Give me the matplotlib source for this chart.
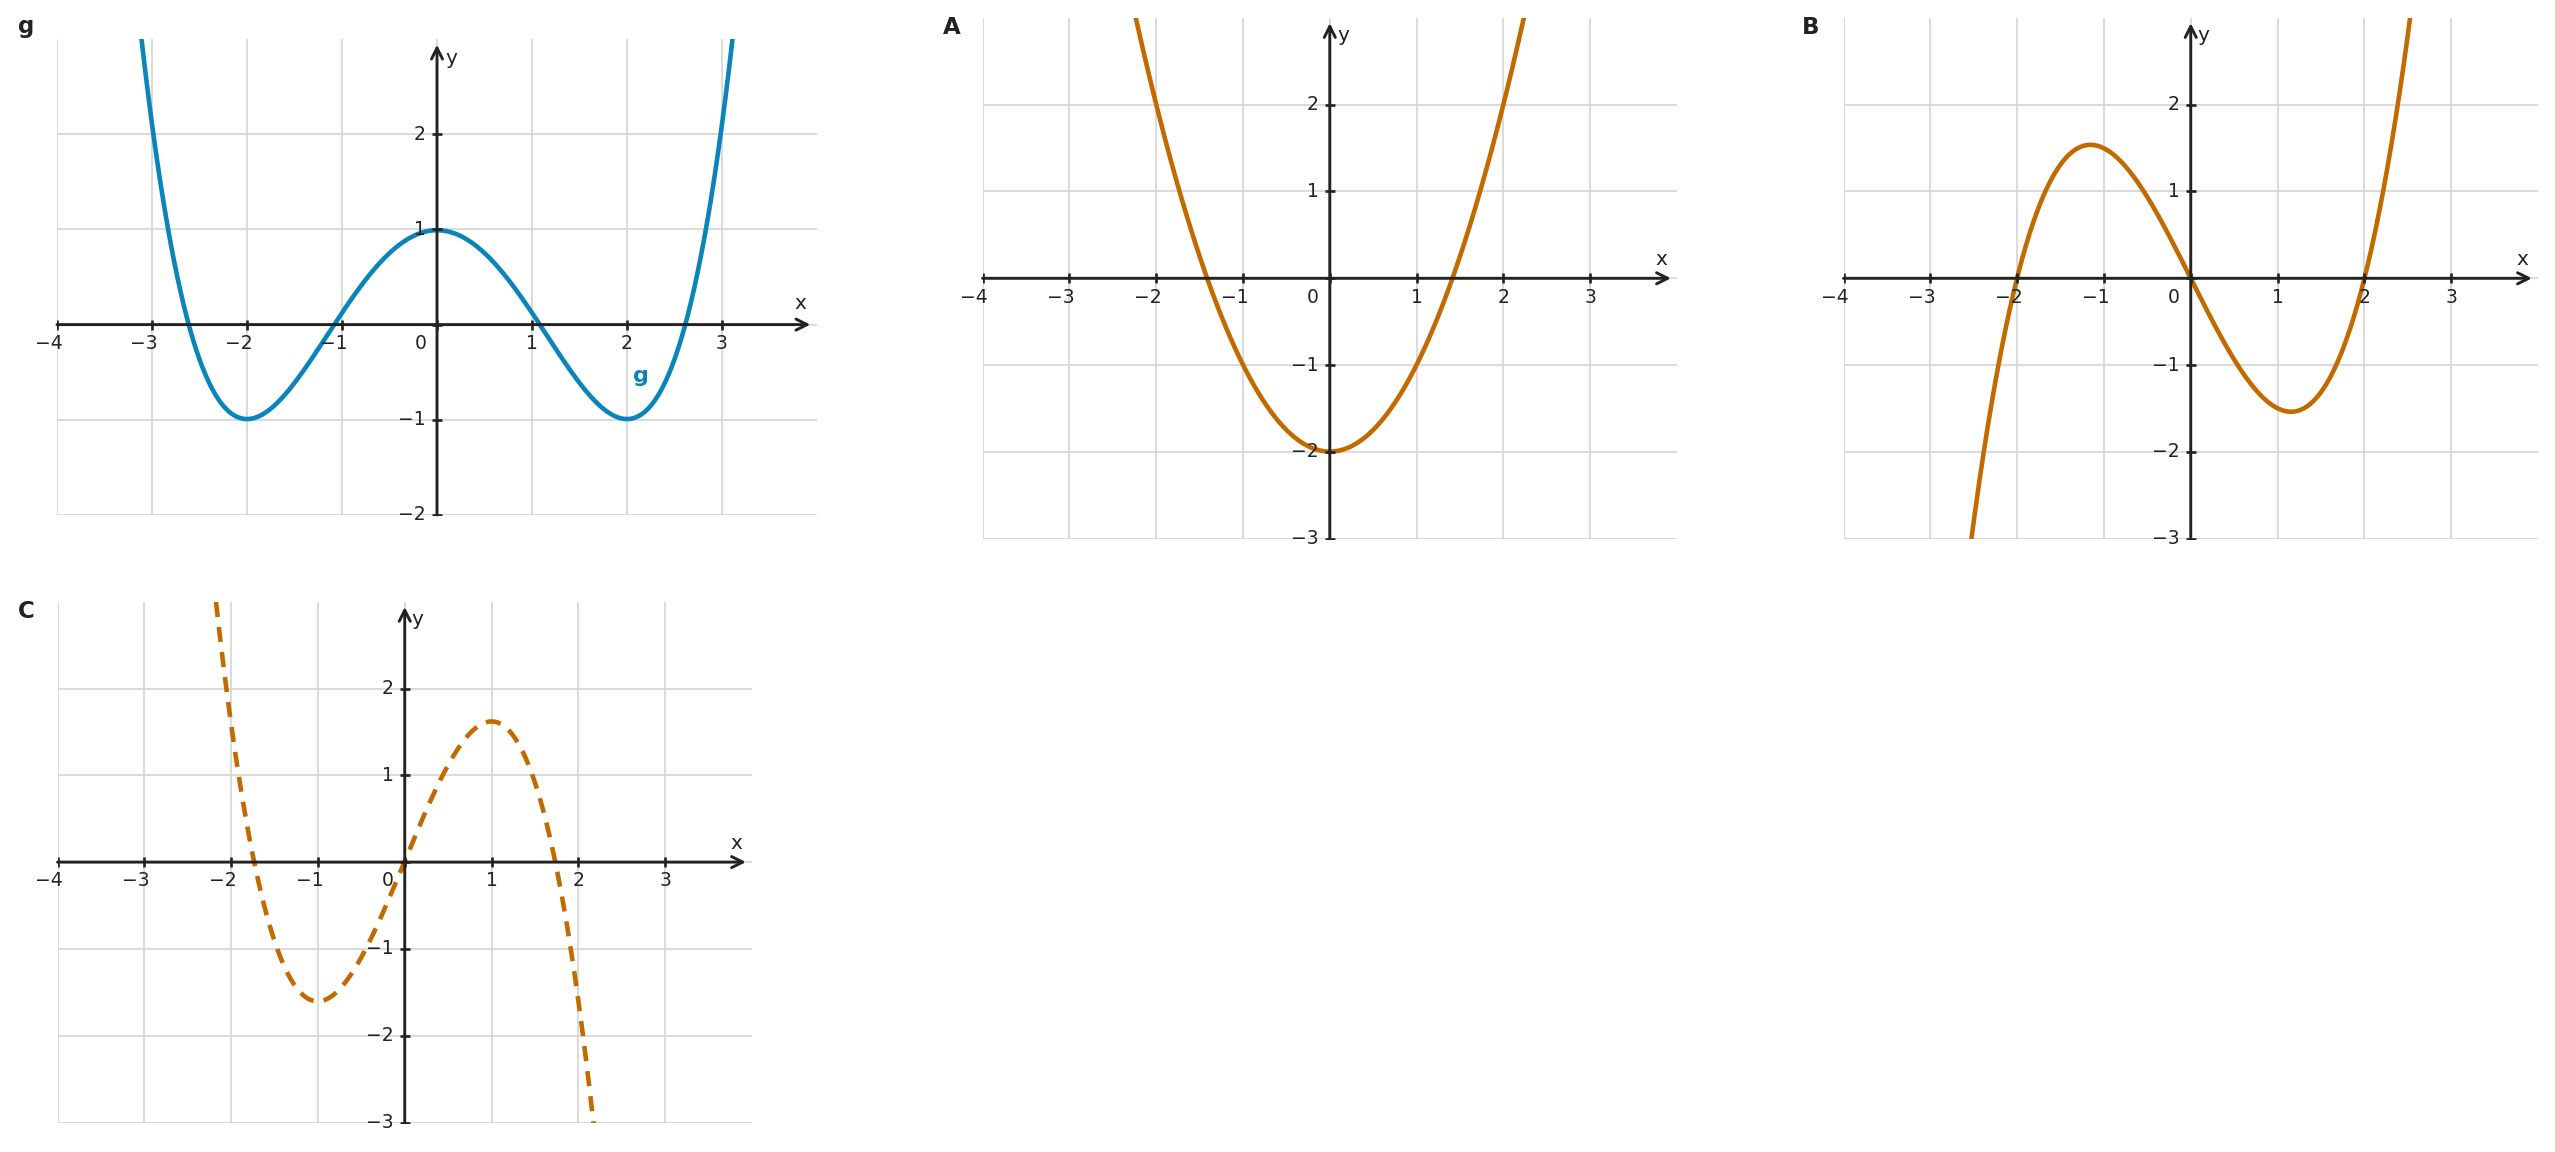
import numpy as np
import matplotlib
matplotlib.use("Agg")
import matplotlib.pyplot as plt

# points (x, y)
g_x = [-3.0, -2.61, -2.0, -1.08, 0.0, 1.08, 2.0, 2.61, 3.0]
g_y = [2.1, 0.0, -1.0, 0.0, 1.0, 0.0, -1.0, 0.0, 2.1]

a_x = [-2.0, -1.41, -1.0, 0.0, 1.0, 1.41, 2.0]
a_y = [2.0, 0.0, -1.0, -2.0, -1.0, 0.0, 2.0]

b_x = [-2.5, -2.0, -1.15, 0.0, 1.15, 2.0, 2.4]
b_y = [-2.8, 0.0, 1.54, 0.0, -1.54, 0.0, 2.1]

c_x = [-2.18, -2.045, -1.92, -1.73, -1.0, 0.0, 1.0, 1.74, 1.92, 2.05, 2.17]
c_y = [3.0, 2.0, 1.0, 0.0, -1.6, 0.0, 1.6, 0.0, -1.0, -2.0, -3.0]

x_ticks = [-4, -3, -2, -1, 0, 1, 2, 3]

BLUE = "#0a85b9"
ORANGE = "#c26a00"
INK = "#222222"
GRID = "#d4d4d4"

W, H = 2555, 1152
fig = plt.figure(figsize=(W / 100, H / 100), dpi=100)


def px_axes(left, top, right, bottom):
    return fig.add_axes([left / W, 1 - bottom / H, (right - left) / W, (bottom - top) / H])


def coord_system(ax, ymin, ymax=3):
    ax.set_xlim(-4, 4)
    ax.set_ylim(ymin, ymax)
    ax.axis("off")
    # grid
    for gx in range(-4, 4):
        ax.plot([gx, gx], [ymin, ymax], color=GRID, lw=1.2, zorder=1)
    for gy in range(ymin, ymax):
        ax.plot([-4, 4], [gy, gy], color=GRID, lw=1.2, zorder=1)
    # axes with arrows
    arrow = dict(arrowstyle="->", lw=2.1, color=INK, mutation_scale=20,
                 shrinkA=0, shrinkB=0)
    ax.annotate("", xy=(3.93, 0), xytext=(-4, 0), arrowprops=arrow, zorder=3)
    ax.annotate("", xy=(0, 2.94), xytext=(0, ymin), arrowprops=arrow, zorder=3)
    ax.text(3.82, 0.22, "x", fontsize=14.5, color=INK, ha="center", va="center")
    ax.text(0.15, 2.8, "y", fontsize=14.5, color=INK, ha="center", va="center")
    # ticks
    ax.plot(x_ticks, [0] * len(x_ticks), ls="none", marker="|", ms=7.2,
            mew=1.9, color=INK, zorder=3)
    y_ticks = list(range(ymin, ymax))
    ax.plot([0] * len(y_ticks), y_ticks, ls="none", marker="_", ms=7.2,
            mew=1.9, color=INK, zorder=3)
    for t in x_ticks:
        if t == 0:
            dx = -12
        elif t < 0:
            dx = -6
        else:
            dx = 0
        ax.annotate(str(t).replace("-", "\u2212"), (t, 0), textcoords="offset points",
                    xytext=(dx, -13.5), ha="center", va="center",
                    fontsize=13.5, color=INK)
    for t in y_ticks:
        if t == 0:
            continue
        ax.annotate(str(t).replace("-", "\u2212"), (0, t), textcoords="offset points",
                    xytext=(-8, 0), ha="right", va="center",
                    fontsize=13.5, color=INK)


def curve(ax, px, py, deg, color, **kw):
    coef = np.polyfit(px, py, deg)
    xs = np.linspace(-4, 4, 1200)
    ax.plot(xs, np.polyval(coef, xs), color=color, lw=3.3, zorder=2, **kw)


# panel g
ax_g = px_axes(57, 39, 817, 515)
coord_system(ax_g, -2)
curve(ax_g, g_x, g_y, 4, BLUE)
ax_g.text(2.15, -0.54, "g", color=BLUE, fontsize=16, fontweight="bold",
          ha="center", va="center")

# panel A
ax_a = px_axes(982.6, 17.9, 1677, 538.7)
coord_system(ax_a, -3)
curve(ax_a, a_x, a_y, 2, ORANGE)

# panel B
ax_b = px_axes(1843.5, 17.9, 2538, 538.7)
coord_system(ax_b, -3)
curve(ax_b, b_x, b_y, 3, ORANGE)

# panel C
ax_c = px_axes(57.5, 601.7, 752, 1122.5)
coord_system(ax_c, -3)
curve(ax_c, c_x, c_y, 3, ORANGE, dashes=(3.3, 2.2))

for lab, x, y in [("g", 26, 27), ("A", 952, 27), ("B", 1811, 27), ("C", 26, 611)]:
    fig.text(x / W, 1 - y / H, lab, fontsize=16.5, fontweight="bold", color=INK,
             ha="center", va="center")

fig.savefig("out.png", dpi=100)
